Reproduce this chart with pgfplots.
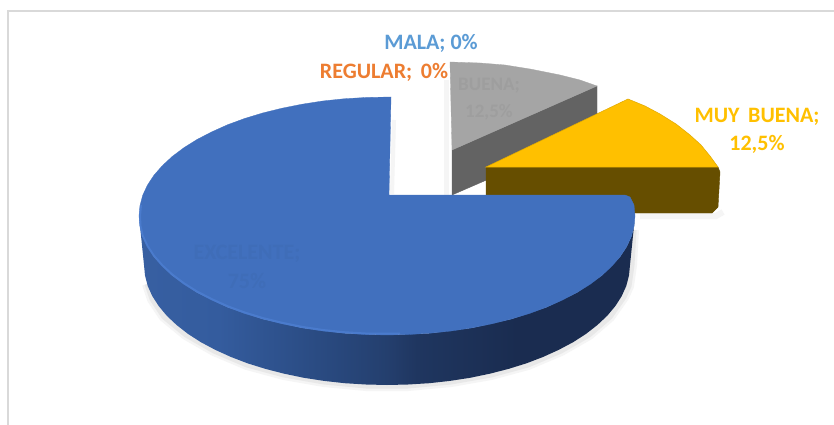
\documentclass[border=0pt]{standalone}
\usepackage{pgfplots}
\pgfplotsset{compat=1.18}
\usepackage{fontspec}
\setmainfont{Carlito}
\definecolor{blue1}{HTML}{4170BE}\definecolor{rim}{HTML}{5285DA}
\definecolor{gr1}{HTML}{A5A5A5}\definecolor{gr2}{HTML}{636363}
\definecolor{ye1}{HTML}{FFC000}\definecolor{ye2}{HTML}{664E00}
\definecolor{lm}{HTML}{5B9BD5}\definecolor{lo}{HTML}{ED7D31}
\pgfdeclarehorizontalshading{sidegrad}{100bp}{color(0bp)=(blue1);color(25bp)=(blue1!85!black);
  rgb(33bp)=(0.204,0.361,0.62);rgb(43bp)=(0.165,0.294,0.51);rgb(50bp)=(0.141,0.247,0.431);
  rgb(53bp)=(0.122,0.212,0.376);rgb(63bp)=(0.102,0.173,0.314);rgb(100bp)=(0.102,0.173,0.314)}
\newcommand{\lab}{\bfseries\fontsize{22}{24}\selectfont}
\newcommand{\labs}{\bfseries\fontsize{19}{21}\selectfont}
\begin{document}
\begin{tikzpicture}
\begin{axis}[hide axis,scale only axis,width=834pt,height=425pt,
  xmin=0,xmax=834,ymin=0,ymax=425,y dir=reverse,clip=true]
% frame
\addplot[draw=none,fill=white] coordinates {(0,0)(834,0)(834,425)(0,425)} -- cycle;
\addplot[draw=black!15,line width=1.4pt] coordinates {(8,425)(8,11)(834,11)};
% soft shadows
\addplot[draw=black!4,line width=10pt,line join=round] coordinates {(634,230)(632,265)(629,286)(624,297)(610,317)(589,335)(561,351)(528,365)(491,375)(451,382)(408,386)(366,386)(324,382)(284,375)(247,365)(214,351)(186,335)(164,317)(152,299)(147,284)};
\addplot[draw=black!9,line width=5pt,line join=round] coordinates {(634,230)(632,265)(629,286)(624,297)(610,317)(589,335)(561,351)(528,365)(491,375)(451,382)(408,386)(366,386)(324,382)(284,375)(247,365)(214,351)(186,335)(164,317)(152,299)(147,284)};
\addplot[draw=black!4,line width=6pt] coordinates {(640,216)(716,216)(723,212)};
\addplot[draw=black!4,line width=5pt] coordinates {(446,80)(446,196)};
\addplot[draw=black!4,line width=4pt] coordinates {(394,120)(392,194)};
% grey slice
\addplot[fill=gr2,draw=gr2] coordinates {(452,150)(597,86)(597,132)(452,195)} -- cycle;
\addplot[fill=gr1,draw=gr1,line width=.3pt] coordinates {(450,62)(480,63)(505,65)(530,69)(560,75)(580,80)(597,86)(452,150)} -- cycle;
\node[text=black!38,font=\labs] at (axis cs:489,86) {BUENA;};
\node[text=black!38,font=\labs] at (axis cs:489,112) {12,5\%};
% yellow slice
\addplot[fill=ye2,draw=ye2,line join=round] coordinates {(486,167)(718,167)(720,172)(718,207)(712,213)(486,213)} -- cycle;
\addplot[fill=ye1,draw=ye1!88!black,line width=.5pt] coordinates {(486,167)(628,99)(645,106)(660,114)(676,124)(690,135)(701,145)(710,156)(718,167)} -- cycle;
% blue side wall
\addplot[draw=none,shading=sidegrad] coordinates {(635,216)(634,226.4)(631.3,236.7)(626.6,246.8)(620.1,256.7)(601.8,275.5)(577,292.5)(546.5,307.2)(511,319.1)(471.8,327.9)(430.1,333.2)(387,335)(343.9,333.2)(302.2,327.9)(263,319.1)(227.5,307.2)(197,292.5)(172.2,275.5)(153.9,256.7)(142.7,236.7)(139,216)
 (144,265)(145,275.4)(147.7,285.9)(152.3,296.1)(158.7,306)(166.8,315.8)(176.6,325)(188,333.9)(200.9,342.2)(215.2,349.8)(230.8,356.9)(247.5,363.3)(265.5,368.9)(284.2,373.7)(303.9,377.8)(324.1,380.9)(344.7,383.2)(365.9,384.5)(387,385)(408.1,384.5)(429.3,383.2)(449.9,380.9)(470.1,377.8)(489.8,373.7)(508.5,368.9)(526.5,363.3)(543.2,356.9)(558.8,349.8)(573.1,342.2)(586,333.9)(597.4,325)(607.2,315.8)(615.4,306)(621.7,296.1)(626.3,285.9)(629,275.4)(630,265)} -- cycle;
% blue top
\addplot[fill=blue1,draw=blue1,line width=.3pt] coordinates {(389,195)(625,195)(630,197)(634,205)(635,216)(634,226.4)(631.3,236.7)(626.6,246.8)(620.1,256.7)(611.7,266.3)(601.8,275.5)(590.1,284.3)(577,292.5)(562.3,300.1)(546.5,307.2)(529.4,313.5)(511,319.1)(491.9,323.8)(471.8,327.9)(451.2,331)(430.1,333.2)(408.6,334.5)(387,335)(365.4,334.5)(343.9,333.2)(322.8,331)(302.2,327.9)(282.1,323.8)(263,319.1)(244.6,313.5)(227.5,307.2)(211.7,300.1)(197,292.5)(183.9,284.3)(172.2,275.5)(162.3,266.3)(153.9,256.7)(147.4,246.8)(142.7,236.7)(140,226.4)(139,216)(140,205.6)(142.7,195.3)(147.4,185.2)(153.9,175.3)(162.3,165.7)(172.2,156.5)(183.9,147.7)(197,139.5)(211.7,131.9)(227.5,124.8)(244.6,118.5)(263,112.9)(282.1,108.2)(302.2,104.2)(322.8,101)(343.9,98.8)(365.4,97.5)(391,97)} -- cycle;
% rim highlight
\addplot[draw=rim,line width=2pt,opacity=.55,line join=round] coordinates {(400,333.5)(365.4,333.5)(343.9,332.2)(322.8,330)(302.2,326.9)(282.1,322.8)(263,318.1)(244.6,312.5)(227.5,306.2)(211.7,299.1)(197,291.5)(183.9,283.3)(172.2,274.5)(162.3,265.3)(153.9,255.7)(147.4,245.8)(142.7,235.7)(140.5,226)(140,216)(141,205)};
% faint labels
\node[text=blue1!97!black,font=\lab] at (axis cs:247,254) {EXCELENTE;};
\node[text=blue1!97!black,font=\lab] at (axis cs:247,281) {75\%};
% data labels
\node[text=lm,font=\lab] at (axis cs:431,43) {MALA; 0\%};
\node[text=lo,font=\lab] at (axis cs:384,72) {REGULAR;\ \,0\%};
\node[text=ye1,font=\lab] at (axis cs:757,117) {MUY\ \,BUENA;};
\node[text=ye1,font=\lab] at (axis cs:757,144) {12,5\%};
\end{axis}
\end{tikzpicture}
\end{document}
